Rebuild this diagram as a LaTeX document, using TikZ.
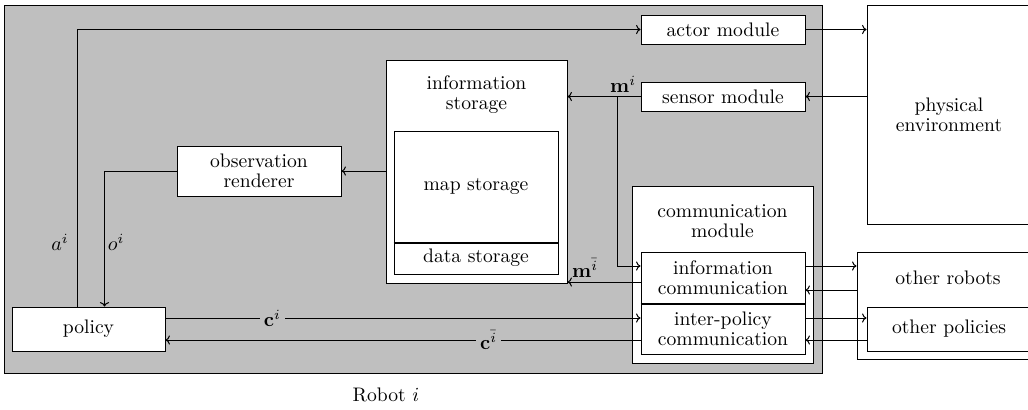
\documentclass[tikz,border=0pt]{standalone}
\usetikzlibrary{calc,arrows.meta}
\begin{document}
\begin{tikzpicture}[x=0.5pt,y=-0.5pt,
  font=\fontsize{9.8pt}{10pt}\selectfont,
  line width=0.5pt,
  box/.style={draw,fill=white,inner sep=0pt,align=center},
  title/.style={align=center,inner sep=0pt},
  flow/.style={-{To[length=2.2pt,width=4.6pt]}},
  tag/.style={inner sep=1pt},
  gaptag/.style={fill=black!25,inner sep=2pt},
  sep/.style={line width=1pt}]
\useasboundingbox (0,0) rectangle (1028,409);
\clip (0,0) rectangle (1028,409);

% robot frame
\node[draw,fill=black!25,inner sep=0pt,minimum width=409pt,minimum height=184pt] (robot) at (413,189) {};
\node (robotlbl) at (386,395) {Robot $i$};

% modules inside the robot
\node[box,minimum width=82pt,minimum height=14.5pt] (actor) at (723,29.5) {actor module};
\node[box,minimum width=82pt,minimum height=14.5pt] (sensor) at (723,96.5) {sensor module};

\node[box,minimum width=90.5pt,minimum height=111.5pt] (store) at (476.5,171.5) {};
\node[title] (storelbl) at (476.5,95) {information\\storage};
\node[box,minimum width=82pt,minimum height=55.5pt] (map) at (476,186.5) {map storage};
\node[box,minimum width=82pt,minimum height=16pt] (data) at (476,258) {data storage};
\draw[sep] (map.south west) -- (map.south east);

\node[box,minimum width=82pt,minimum height=25pt] (render) at (259,171) {observation\\renderer};
\node[box,minimum width=76.5pt,minimum height=22pt] (policy) at (88.5,329) {policy};

\node[box,minimum width=90.5pt,minimum height=88.5pt] (comm) at (722.5,274.5) {};
\node[title] (commlbl) at (722.5,221) {communication\\module};
\node[box,minimum width=82pt,minimum height=25.5pt] (icomm) at (723,277.5) {information\\communication};
\node[box,minimum width=82pt,minimum height=25pt] (pcomm) at (723,329) {inter-policy\\communication};
\draw[sep] (icomm.south west) -- (icomm.south east);

% outside world
\node[box,minimum width=82pt,minimum height=109.5pt] (env) at (949,114.5) {physical\\environment};
\node[box,minimum width=90.5pt,minimum height=53.5pt] (robots) at (947.5,305.5) {};
\node (robotslbl) at (948,278) {other robots};
\node[box,minimum width=82pt,minimum height=22pt] (policies) at (949,329) {other policies};

% attachment points on the box sides
\coordinate (aout)  at ($(policy.north west)+(66,0)$);
\coordinate (oin)   at ($(policy.north west)+(93,0)$);
\coordinate (mbranch) at ($(sensor.west)+(-23,0)$);
\coordinate (icin)  at ($(icomm.west)+(0,-11.5)$);
\coordinate (icout) at ($(icomm.west)+(0,4.5)$);
\coordinate (icre)  at ($(icomm.east)+(0,-11.5)$);
\coordinate (icrw)  at ($(icomm.east)+(0,12.5)$);
\coordinate (pcin)  at ($(pcomm.west)+(0,-11)$);
\coordinate (pcout) at ($(pcomm.west)+(0,11)$);
\coordinate (pcre)  at ($(pcomm.east)+(0,-11)$);
\coordinate (pcrw)  at ($(pcomm.east)+(0,11)$);

% action path
\draw[flow] (aout) |- (actor.west);
\draw[flow] (actor.east) -- (actor.east -| env.west);
\draw[flow] (sensor.east -| env.west) -- (sensor.east);

% sensing and stored information
\draw[flow] (sensor.west) -- (sensor.west -| store.east);
\draw[flow] (mbranch) |- (icin);
\node[tag] (mlbl) at (623,84) {$\mathbf{m}^{i}$};
\draw[flow] (icout) -- (icout -| store.east);
\node[tag] (mbarlbl) at (585,268) {$\mathbf{m}^{\bar{i}}$};

% observation path
\draw[flow] (render.east -| store.west) -- (render.east);
\draw[flow] (render.west) -| (oin);
\node[tag] (albl) at (60,242) {$a^{i}$};
\node[tag] (olbl) at (116,242) {$o^{i}$};

% inter-policy messages
\draw[flow] (pcin -| policy.east) -- node[gaptag,pos=0.225] (clbl) {$\mathbf{c}^{i}$} (pcin);
\draw[flow] (pcout) -- node[gaptag,pos=0.32] (cbarlbl) {$\mathbf{c}^{\bar{i}}$} (pcout -| policy.east);

% links to other robots and policies
\draw[flow] (icre) -- (icre -| robots.west);
\draw[flow] (icrw -| robots.west) -- (icrw);
\draw[flow] (pcre) -- (pcre -| policies.west);
\draw[flow] (pcrw -| policies.west) -- (pcrw);
\end{tikzpicture}
\end{document}
